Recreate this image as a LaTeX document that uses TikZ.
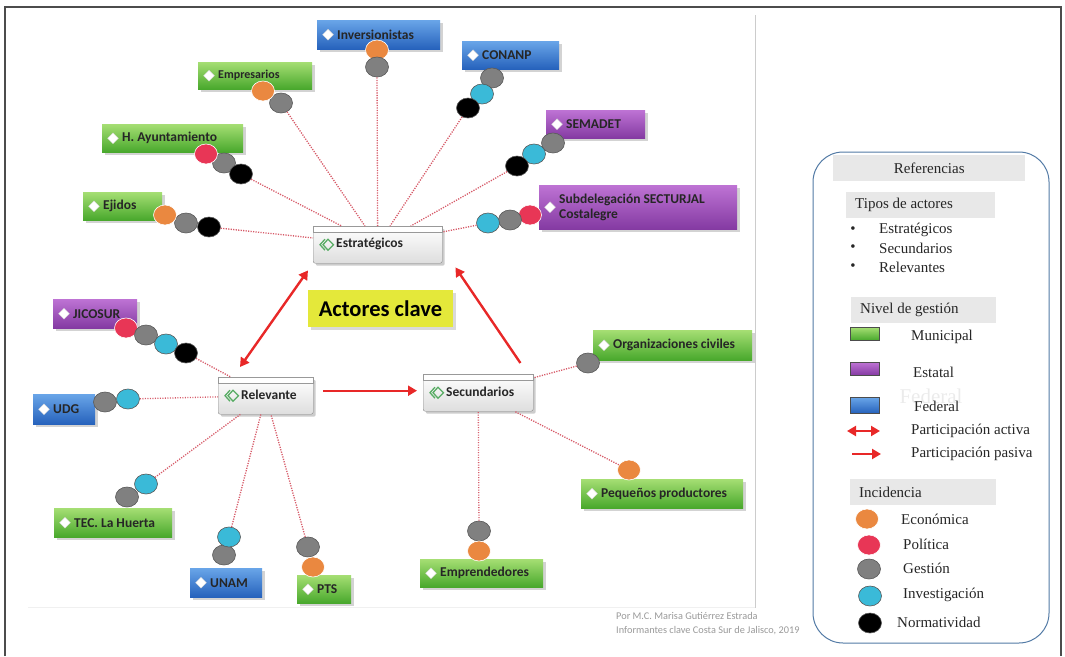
\documentclass[tikz,border=0pt]{standalone}
\usepackage{fontspec}
\setmainfont{Liberation Serif}
\newfontfamily\boxfont{Carlito}
\usetikzlibrary{shapes.geometric,shadows,arrows.meta}

\definecolor{grnA}{RGB}{165,222,115}
\definecolor{grnB}{RGB}{72,168,44}
\definecolor{purA}{RGB}{190,115,212}
\definecolor{purB}{RGB}{132,58,162}
\definecolor{bluA}{RGB}{105,165,232}
\definecolor{bluB}{RGB}{38,98,188}
\definecolor{cEco}{RGB}{234,136,64}
\definecolor{cPol}{RGB}{232,54,86}
\definecolor{cGes}{RGB}{128,128,128}
\definecolor{cInv}{RGB}{58,186,216}
\definecolor{cLink}{RGB}{214,90,104}
\definecolor{cArr}{RGB}{232,40,40}
\definecolor{cYel}{RGB}{228,232,58}
\definecolor{cIcon}{RGB}{88,172,100}
\definecolor{cLeg}{RGB}{82,122,165}

% actor box: name, x, y, width, height, level, text
\newcommand\actor[7]{%
  \node[box, #6, minimum width=#4pt, minimum height=#5pt] (#1) at (#2,#3) {};
  \node[dia] at ([xshift=11pt]#1.west) {};
  \node[lbl] at ([xshift=20pt]#1.west) {#7};
}
% hub box: name, x, y, width, height, text
\newcommand\hub[6]{%
  \node[hubbox, minimum width=#4pt, minimum height=#5pt] (#1) at (#2,#3) {};
  \draw[hubtop] (#1.north west) rectangle ([yshift=-6pt]#1.north east);
  \begin{scope}[shift={(#1.west)}]
    \draw[icon] (12,-5.5) -- (7,0) -- (12,5.5);
    \draw[icon] (15,-5.5) -- (10,0) -- (15,5.5) -- (20.5,0) -- cycle;
  \end{scope}
  \node[hublbl] at ([xshift=23pt,yshift=1pt]#1.west) {#6};
}

\tikzset{
  frame/.style={draw=black!70, line width=1.2pt},
  sep/.style={draw=black!20, line width=0.8pt},
  box/.style={anchor=north west, inner sep=0pt,
    drop shadow={shadow xshift=2.5pt, shadow yshift=-2.5pt, opacity=0.35}},
  municipal/.style={top color=grnA, bottom color=grnB},
  estatal/.style={top color=purA, bottom color=purB},
  federal/.style={top color=bluA, bottom color=bluB},
  dia/.style={diamond, fill=white, draw=black!15, inner sep=0pt,
    minimum width=11pt, minimum height=11pt},
  lbl/.style={anchor=west, align=left, inner sep=0pt, text=black!85,
    font=\boxfont\bfseries\fontsize{13.5}{15}\selectfont},
  hubbox/.style={anchor=north west, inner sep=0pt, draw=black!45,
    rounded corners=2pt, top color=white, bottom color=black!13,
    drop shadow={shadow xshift=2.5pt, shadow yshift=-2.5pt, opacity=0.4}},
  hubtop/.style={fill=white, draw=black!40, line width=0.5pt},
  icon/.style={draw=cIcon, line width=1.3pt, line join=miter},
  hublbl/.style={anchor=west, inner sep=0pt, text=black!85,
    font=\boxfont\bfseries\fontsize{13.5}{15}\selectfont},
  title/.style={fill=cYel, minimum width=145pt, minimum height=37pt,
    inner sep=0pt, font=\boxfont\bfseries\fontsize{22.5}{24}\selectfont,
    drop shadow={shadow xshift=2.5pt, shadow yshift=-2.5pt, opacity=0.3}},
  incid/.style={ellipse, minimum width=23pt, minimum height=20pt,
    inner sep=0pt, line width=0.6pt},
  econ/.style={incid, fill=cEco, draw=white},
  poli/.style={incid, fill=cPol, draw=white},
  gest/.style={incid, fill=cGes, draw=black!65},
  inve/.style={incid, fill=cInv, draw=black!65},
  norm/.style={incid, fill=black, draw=black!65},
  link/.style={draw=cLink, line width=1.3pt, dash pattern=on 1.2pt off 1.3pt},
  activa/.style={draw=cArr, line width=2.4pt,
    {Triangle[length=9pt,width=10pt]}-{Triangle[length=9pt,width=10pt]}},
  pasiva/.style={draw=cArr, line width=2.4pt, -{Triangle[length=9pt,width=10pt]}},
  lframe/.style={draw=cLeg, line width=1pt, rounded corners=30pt},
  lhead/.style={fill=black!9, minimum height=26pt, anchor=north west, inner sep=0pt},
  ltxt/.style={anchor=west, inner sep=0pt, text=black!85,
    font=\fontsize{15}{17}\selectfont},
  swatch/.style={anchor=north west, inner sep=0pt, draw=black!70,
    line width=0.6pt, minimum width=29pt},
  credit/.style={anchor=north west, align=left, inner sep=0pt, text=black!40,
    font=\boxfont\fontsize{10.3}{14}\selectfont},
}

\begin{document}
\begin{tikzpicture}[x=1pt, y=-1pt]
  \useasboundingbox (0,0) rectangle (1065,656);
  % frame of the page
  \draw[frame] (5,656) -- (5,7) -- (1061,7) -- (1061,656);
  \draw[sep] (755,15) -- (755,608);
  \draw[black!6, line width=0.8pt] (28,607) -- (755,607);

  % the three kinds of actors
  \hub{est}{313}{226}{129}{37}{Estratégicos}
  \hub{rel}{218}{377}{95}{37}{Relevante}
  \hub{scd}{423}{374}{110}{37}{Secundarios}
  \node[title] (clave) at (380.5,308.5) {Actores clave};

  % estratégicos
  \actor{inv}{317}{20}{123}{29}{federal}{Inversionistas}
  \actor{emp}{198}{62}{114}{27}{municipal}{{\fontsize{12}{14}\selectfont Empresarios}}
  \actor{ayu}{102}{124}{141}{28}{municipal}{H. Ayuntamiento}
  \actor{eji}{83}{192}{79}{28}{municipal}{Ejidos}
  \actor{con}{462}{41}{97}{28}{federal}{CONANP}
  \actor{sem}{546}{110}{99}{28}{estatal}{SEMADET}
  \actor{sub}{539}{185}{198}{44}{estatal}{Subdelegación SECTURJAL\\Costalegre}
  % relevantes
  \actor{jic}{53}{299}{84}{29}{estatal}{JICOSUR}
  \actor{udg}{33}{394}{62}{30}{federal}{UDG}
  \actor{tec}{54}{508}{118}{29}{municipal}{TEC. La Huerta}
  \actor{una}{190}{568}{72}{29}{federal}{UNAM}
  \actor{pts}{297}{575}{54}{28}{municipal}{PTS}
  % secundarios
  \actor{org}{593}{330}{159}{30}{municipal}{Organizaciones civiles}
  \actor{peq}{581}{479}{162}{29}{municipal}{Pequeños productores}
  \actor{ent}{420}{559}{123}{28}{municipal}{Emprendedores}

  % incidence of each actor
  \node[econ] (inv1) at (377,50) {};
  \node[gest] (inv2) at (377,67) {};
  \node[gest] (emp2) at (281,103) {};
  \node[econ] (emp1) at (263,91) {};
  \node[gest] (ayu2) at (224,163) {};
  \node[poli] (ayu1) at (206,154) {};
  \node[norm] (ayu3) at (241,174) {};
  \node[gest] (eji2) at (186,223) {};
  \node[econ] (eji1) at (165,215) {};
  \node[norm] (eji3) at (209,227) {};
  \node[gest] (con1) at (492,78) {};
  \node[inve] (con2) at (482,94) {};
  \node[norm] (con3) at (468,108) {};
  \node[gest] (sem1) at (553,143) {};
  \node[inve] (sem2) at (534,154) {};
  \node[norm] (sem3) at (517,166) {};
  \node[poli] (sub1) at (530,215) {};
  \node[gest] (sub2) at (510,220) {};
  \node[inve] (sub3) at (488,223) {};
  \node[poli] (jic1) at (126,328) {};
  \node[gest] (jic2) at (146,335) {};
  \node[inve] (jic3) at (166,344) {};
  \node[norm] (jic4) at (186,353) {};
  \node[gest] (udg1) at (105,402) {};
  \node[inve] (udg2) at (128,399) {};
  \node[gest] (tec1) at (127,497) {};
  \node[inve] (tec2) at (146,484) {};
  \node[gest] (una2) at (224,555) {};
  \node[inve] (una1) at (229,537) {};
  \node[gest] (pts1) at (308,547) {};
  \node[econ] (pts2) at (313,567) {};
  \node[gest] (org1) at (588,363) {};
  \node[econ] (peq1) at (629,470) {};
  \node[gest] (ent1) at (479,531) {};
  \node[econ] (ent2) at (479,551) {};

  % links to the hubs
  \draw[link] (inv2) -- (est);
  \draw[link] (emp2) -- (est);
  \draw[link] (ayu3) -- (est);
  \draw[link] (eji3) -- (est);
  \draw[link] (con3) -- (est);
  \draw[link] (sem3) -- (est);
  \draw[link] (sub3) -- (est);
  \draw[link] (jic4) -- (rel);
  \draw[link] (udg2) -- (rel);
  \draw[link] (tec2) -- (rel);
  \draw[link] (una1) -- (rel);
  \draw[link] (pts1) -- (rel);
  \draw[link] (org1) -- (scd);
  \draw[link] (peq1) -- (scd);
  \draw[link] (ent1) -- (scd);

  % participation
  \draw[activa] ([xshift=22pt,yshift=10pt]rel.north west) -- ([xshift=-5pt,yshift=-7pt]est.south west);
  \draw[pasiva] ([xshift=-13pt,yshift=11pt]scd.north east) -- ([xshift=13pt,yshift=-4pt]est.south east);
  \draw[pasiva] ([xshift=10pt,yshift=5pt]rel.east) -- ([xshift=-6pt,yshift=2pt]scd.west);

  \node[credit] (autor) at (616,612) {Por M.C. Marisa Gutiérrez Estrada\\Informantes clave Costa Sur de Jalisco, 2019};

  % legend
  \draw[lframe] (813,152) rectangle (1049,643);
  \node[lhead, minimum width=192pt] (hRef) at (833,155) {};
  \node[ltxt, anchor=center] at (hRef) {Referencias};
  \node[lhead, minimum width=149pt] (hTip) at (846,192) {};
  \node[ltxt] at ([xshift=9pt]hTip.west) {Tipos de actores};
  \node[ltxt, anchor=center] at (853,230) {\textbullet};
  \node[ltxt] at (879,230) {Estratégicos};
  \node[ltxt, anchor=center] at (853,248) {\textbullet};
  \node[ltxt] at (879,248) {Secundarios};
  \node[ltxt, anchor=center] at (853,267) {\textbullet};
  \node[ltxt] at (879,267) {Relevantes};

  \node[lhead, minimum width=145pt] (hNiv) at (851,297) {};
  \node[ltxt] at ([xshift=9pt]hNiv.west) {Nivel de gestión};
  \node[swatch, municipal, minimum height=13pt] (sMun) at (850,327) {};
  \node[ltxt] at (911,337) {Municipal};
  \node[swatch, estatal, minimum height=13pt] (sEst) at (850,362) {};
  \node[ltxt] at (913,372) {Estatal};
  \node[ltxt, anchor=center, text=black!8, font=\fontsize{21}{23}\selectfont] at (931,396) {Federal};
  \node[swatch, federal, minimum height=16pt] (sFed) at (850,397) {};
  \node[ltxt] at (914,406) {Federal};

  \coordinate (pa1) at (847,431);
  \coordinate (pa2) at (880,431);
  \draw[activa, line width=2.2pt] (pa1) -- (pa2);
  \node[ltxt] at (911,431) {Participación activa};
  \coordinate (pp1) at (852,454);
  \coordinate (pp2) at (881,454);
  \draw[pasiva, line width=2.2pt] (pp1) -- (pp2);
  \node[ltxt] at (911,454) {Participación pasiva};

  \node[lhead, minimum width=146pt] (hInc) at (850,479) {};
  \node[ltxt] at ([xshift=9pt]hInc.west) {Incidencia};
  \node[econ] (kEco) at (867,519) {};
  \node[ltxt] at (901,519) {Económica};
  \node[poli] (kPol) at (869,545) {};
  \node[ltxt] at (903,544) {Política};
  \node[gest] (kGes) at (869,569) {};
  \node[ltxt] at (903,568) {Gestión};
  \node[inve] (kInv) at (870,596) {};
  \node[ltxt] at (903,595) {Investigación};
  \node[norm] (kNor) at (870,623) {};
  \node[ltxt] at (897,622) {Normatividad};
\end{tikzpicture}
\end{document}
